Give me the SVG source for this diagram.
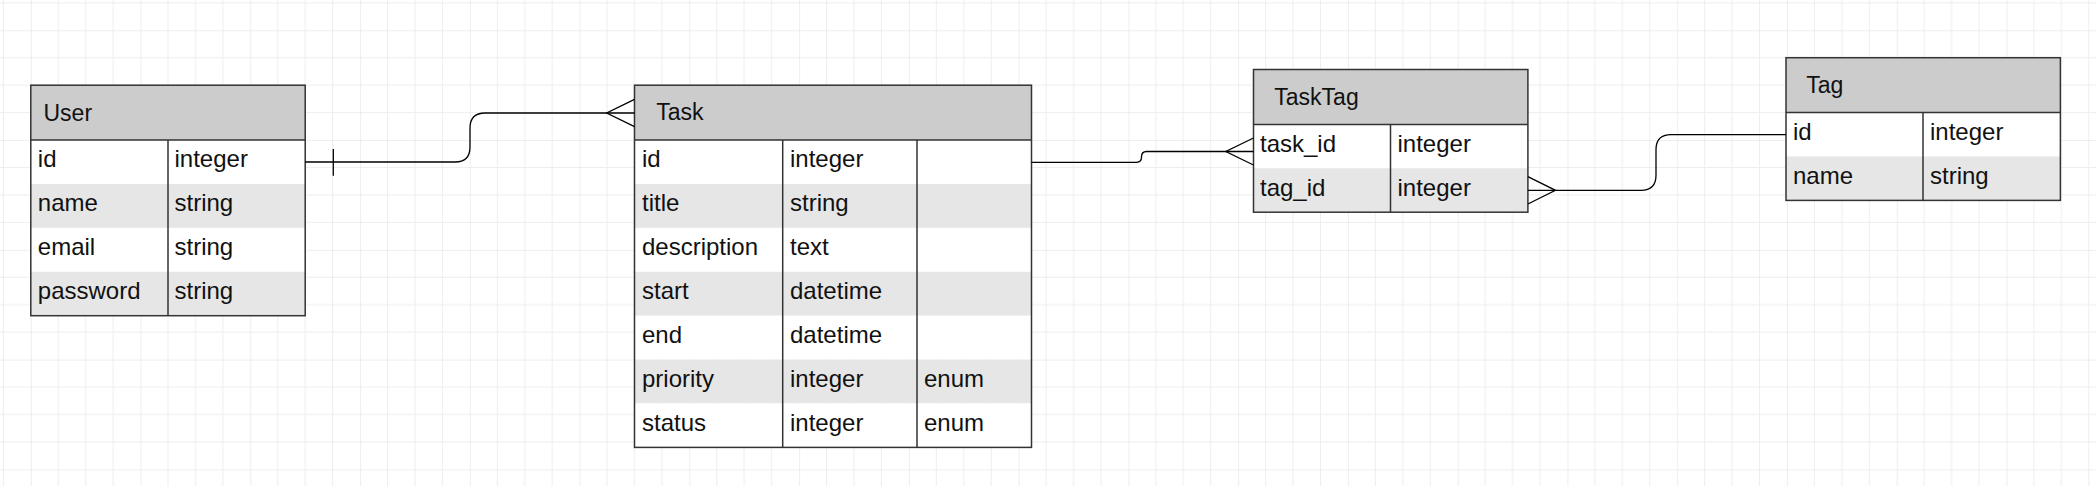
<svg xmlns="http://www.w3.org/2000/svg" width="2096" height="486" viewBox="0 0 2096 486">
<style>
  .hdr { fill: #cccccc; }
  .alt { fill: #e6e6e6; }
  .row { fill: #ffffff; }
  .frame { fill: none; stroke: #333333; stroke-width: 1.5; }
  .sep { fill: none; stroke: #333333; stroke-width: 1.5; }
  .ht { font-family: "Liberation Sans", Arial, sans-serif; font-size: 23px; fill: #111111; }
  .t { font-family: "Liberation Sans", Arial, sans-serif; font-size: 24px; fill: #111111; }
  .conn path { fill: none; stroke: #000000; stroke-width: 1.3; }
</style>
<defs>
  <pattern id="grid" patternUnits="userSpaceOnUse" x="30.8" y="30.3" width="109.76" height="109.76">
    <path d="M27.44,0 V109.76 M54.88,0 V109.76 M82.32,0 V109.76 M0,27.44 H109.76 M0,54.88 H109.76 M0,82.32 H109.76" stroke="#eeeeee" stroke-width="1" fill="none"/>
    <path d="M0,0 V109.76 M0,0 H109.76" stroke="#dedede" stroke-width="1" fill="none"/>
  </pattern>
</defs>
<rect x="0" y="0" width="2096" height="486" fill="#ffffff"/>
<rect x="0" y="0" width="2096" height="486" fill="url(#grid)"/>

<g id="User">
  <rect class="hdr" x="30.8" y="85.2" width="274.4" height="54.9"/>
  <rect class="row" x="30.8" y="140.1" width="274.4" height="43.9"/>
  <rect class="alt" x="30.8" y="184" width="274.4" height="43.9"/>
  <rect class="row" x="30.8" y="227.9" width="274.4" height="43.9"/>
  <rect class="alt" x="30.8" y="271.8" width="274.4" height="43.9"/>
  <path class="sep" d="M30.8,140.1 H305.2 M168,140.1 V315.7"/>
  <rect class="frame" x="30.8" y="85.2" width="274.4" height="230.5"/>
  <text class="ht" x="43.5" y="120.6">User</text>
  <text class="t" x="37.8" y="167.3">id</text><text class="t" x="174.5" y="167.3">integer</text>
  <text class="t" x="37.8" y="211.2">name</text><text class="t" x="174.5" y="211.2">string</text>
  <text class="t" x="37.8" y="255.1">email</text><text class="t" x="174.5" y="255.1">string</text>
  <text class="t" x="37.8" y="299">password</text><text class="t" x="174.5" y="299">string</text>
</g>

<g id="Task">
  <rect class="hdr" x="634.5" y="85.2" width="397" height="54.9"/>
  <rect class="row" x="634.5" y="140.1" width="397" height="43.9"/>
  <rect class="alt" x="634.5" y="184" width="397" height="43.9"/>
  <rect class="row" x="634.5" y="227.9" width="397" height="43.9"/>
  <rect class="alt" x="634.5" y="271.8" width="397" height="43.9"/>
  <rect class="row" x="634.5" y="315.7" width="397" height="43.9"/>
  <rect class="alt" x="634.5" y="359.6" width="397" height="43.9"/>
  <rect class="row" x="634.5" y="403.5" width="397" height="43.9"/>
  <path class="sep" d="M634.5,140.1 H1031.5 M782.7,140.1 V447.4 M917,140.1 V447.4"/>
  <rect class="frame" x="634.5" y="85.2" width="397" height="362.2"/>
  <text class="ht" x="656.3" y="120.4">Task</text>
  <text class="t" x="642" y="167.3">id</text><text class="t" x="790" y="167.3">integer</text>
  <text class="t" x="642" y="211.2">title</text><text class="t" x="790" y="211.2">string</text>
  <text class="t" x="642" y="255.1">description</text><text class="t" x="790" y="255.1">text</text>
  <text class="t" x="642" y="299">start</text><text class="t" x="790" y="299">datetime</text>
  <text class="t" x="642" y="342.9">end</text><text class="t" x="790" y="342.9">datetime</text>
  <text class="t" x="642" y="386.8">priority</text><text class="t" x="790" y="386.8">integer</text><text class="t" x="924" y="386.8">enum</text>
  <text class="t" x="642" y="430.7">status</text><text class="t" x="790" y="430.7">integer</text><text class="t" x="924" y="430.7">enum</text>
</g>

<g id="TaskTag">
  <rect class="hdr" x="1253.5" y="69.5" width="274.4" height="54.9"/>
  <rect class="row" x="1253.5" y="124.4" width="274.4" height="43.9"/>
  <rect class="alt" x="1253.5" y="168.3" width="274.4" height="43.9"/>
  <path class="sep" d="M1253.5,124.4 H1527.9 M1390.5,124.4 V212.2"/>
  <rect class="frame" x="1253.5" y="69.5" width="274.4" height="142.7"/>
  <text class="ht" x="1274.3" y="104.6">TaskTag</text>
  <text class="t" x="1260" y="151.6">task_id</text><text class="t" x="1397.5" y="151.6">integer</text>
  <text class="t" x="1260" y="195.5">tag_id</text><text class="t" x="1397.5" y="195.5">integer</text>
</g>

<g id="Tag">
  <rect class="hdr" x="1786" y="57.7" width="274.4" height="54.9"/>
  <rect class="row" x="1786" y="112.6" width="274.4" height="43.9"/>
  <rect class="alt" x="1786" y="156.5" width="274.4" height="43.9"/>
  <path class="sep" d="M1786,112.6 H2060.4 M1923,112.6 V200.4"/>
  <rect class="frame" x="1786" y="57.7" width="274.4" height="142.7"/>
  <text class="ht" x="1806.3" y="93.1">Tag</text>
  <text class="t" x="1793" y="139.8">id</text><text class="t" x="1930" y="139.8">integer</text>
  <text class="t" x="1793" y="183.7">name</text><text class="t" x="1930" y="183.7">string</text>
</g>

<g id="connectors" class="conn">
  <path d="M305.2,162 H455 Q470,162 470,147 V128 Q470,113 485,113 H634.5"/>
  <path d="M333.3,149 V175.7"/>
  <path d="M634.5,99.3 L606.7,113 L634.5,126.7"/>
  <path d="M1031.5,162.3 H1136.5 Q1141.5,162.3 1141.5,157 Q1141.5,151.5 1146.5,151.5 H1253.5"/>
  <path d="M1253.5,138 L1225.8,151.5 L1253.5,165"/>
  <path d="M1527.9,190.3 H1641 Q1656,190.3 1656,175.3 V149.6 Q1656,134.6 1671,134.6 H1786"/>
  <path d="M1527.9,176.6 L1555.5,190.3 L1527.9,204"/>
</g>
</svg>
